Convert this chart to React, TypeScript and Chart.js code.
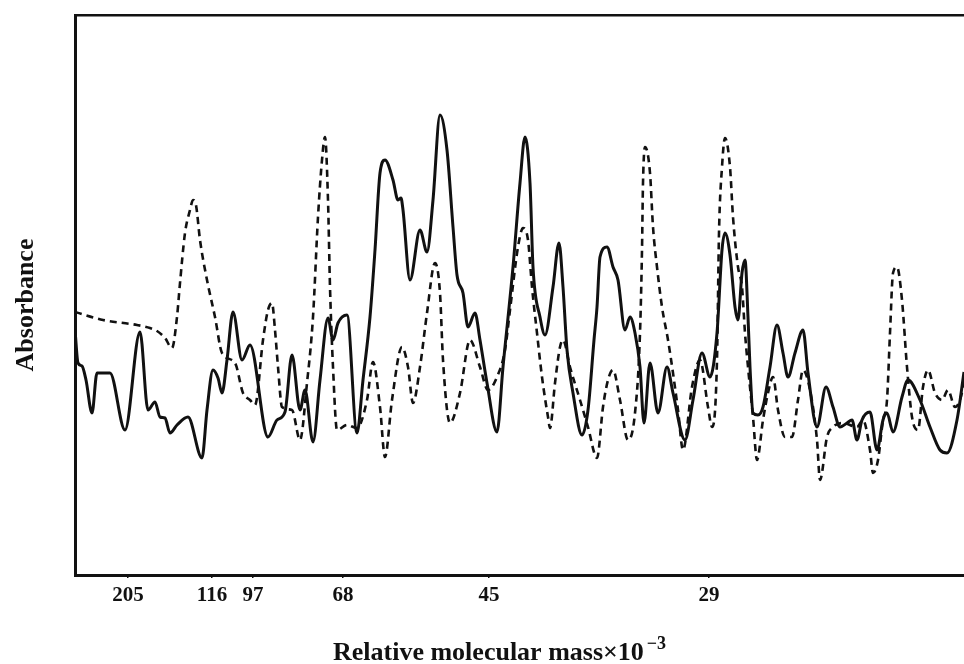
import { useEffect, useRef } from "react";
import { Chart, registerables } from "chart.js";

Chart.register(...registerables);

// Marker proteins (relative molecular mass x10^-3) and their migration positions
const markerMasses = ["205", "116", "97", "68", "45", "29"];
const markerPositions = [53, 137, 178, 268, 414, 634];

// Densitometer trace 1 (solid line): migration distance vs absorbance (arbitrary units)
const solidX = [0, 3, 7, 11, 17, 22, 35, 50, 65, 73, 80, 85, 90, 95, 102, 113, 127, 132, 138, 143, 147, 152, 158, 167, 175, 193, 202, 210, 217, 225, 230, 238, 245, 253, 258, 263, 272, 282, 288, 295, 300, 305, 310, 318, 323, 326, 328, 335, 345, 352, 358, 365, 372, 378, 382, 388, 393, 400, 405, 412, 422, 428, 438, 445, 450, 455, 458, 465, 470, 478, 484, 488, 492, 498, 507, 513, 519, 522, 525, 532, 538, 543, 550, 555, 560, 565, 569, 575, 583, 592, 598, 610, 618, 627, 635, 642, 647, 650, 655, 660, 663, 667, 670, 673, 675, 678, 683, 688, 695, 702, 708, 713, 720, 728, 733, 742, 751, 758, 765, 772, 777, 782, 787, 795, 802, 808, 812, 818, 827, 833, 845, 855, 865, 872, 882, 889];
const solidY = [245, 212, 209, 195, 162, 202, 202, 145, 243, 165, 173, 158, 157, 142, 150, 158, 117, 165, 205, 197, 182, 215, 263, 215, 230, 138, 155, 163, 220, 165, 185, 133, 195, 257, 235, 252, 260, 142, 195, 258, 325, 402, 415, 395, 375, 377, 365, 295, 345, 323, 375, 460, 425, 348, 300, 282, 248, 262, 235, 192, 143, 208, 308, 392, 438, 392, 308, 258, 240, 288, 332, 288, 225, 182, 140, 165, 235, 268, 318, 328, 308, 295, 245, 258, 242, 208, 152, 212, 162, 208, 182, 135, 175, 222, 198, 242, 325, 342, 320, 268, 255, 302, 315, 258, 208, 162, 160, 168, 208, 250, 222, 198, 222, 245, 202, 148, 188, 168, 148, 152, 155, 135, 155, 163, 125, 155, 162, 143, 178, 195, 175, 148, 125, 122, 155, 203];

// Densitometer trace 2 (dashed line)
const dashedX = [0, 28, 62, 75, 82, 90, 97, 102, 105, 110, 115, 118, 121, 125, 132, 140, 147, 160, 168, 175, 180, 188, 193, 197, 200, 203, 207, 217, 225, 232, 238, 243, 247, 250, 253, 255, 258, 262, 272, 282, 292, 298, 305, 310, 317, 327, 333, 338, 345, 352, 360, 365, 368, 375, 385, 395, 405, 413, 422, 430, 435, 443, 448, 453, 457, 462, 467, 473, 475, 480, 485, 488, 495, 505, 513, 522, 528, 533, 538, 545, 553, 560, 565, 567, 568, 570, 575, 578, 582, 587, 593, 598, 603, 608, 617, 625, 633, 637, 642, 644, 647, 650, 655, 658, 663, 667, 670, 673, 678, 682, 688, 693, 698, 703, 710, 717, 723, 728, 735, 742, 745, 752, 758, 768, 782, 788, 795, 798, 803, 808, 812, 815, 818, 822, 827, 832, 837, 843, 848, 853, 860, 867, 873, 880, 885, 889];
const dashedY = [263, 255, 250, 247, 244, 237, 227, 258, 292, 342, 365, 375, 370, 335, 295, 258, 222, 212, 182, 175, 170, 235, 265, 272, 245, 208, 168, 165, 135, 192, 258, 358, 415, 438, 375, 288, 208, 145, 150, 147, 175, 213, 168, 118, 175, 228, 208, 172, 208, 262, 312, 282, 215, 152, 182, 235, 208, 185, 198, 225, 265, 328, 347, 335, 288, 242, 198, 158, 147, 192, 228, 235, 208, 175, 148, 117, 168, 195, 205, 175, 135, 162, 242, 325, 392, 428, 402, 348, 308, 268, 235, 202, 165, 125, 188, 215, 168, 148, 215, 342, 408, 437, 408, 358, 308, 288, 242, 208, 158, 115, 155, 182, 198, 165, 138, 138, 175, 205, 185, 135, 95, 138, 148, 152, 148, 155, 125, 102, 115, 155, 175, 242, 302, 308, 275, 208, 158, 145, 188, 205, 182, 175, 185, 168, 175, 192];

const X_MAX = 889;
const Y_MAX = 560;

const yTitle = "Absorbance";
const xTitleMain = "Relative molecular mass\u00d710";
const xTitleSup = "\u22123";

const FONT = "'Liberation Serif', 'Times New Roman', serif";
const INK = "#111111";

const titlesPlugin = {
  id: "scanTitles",
  afterDraw(chart: any) {
    const ctx = chart.ctx as CanvasRenderingContext2D;
    ctx.save();
    ctx.fillStyle = INK;
    // x title with superscript
    ctx.font = `bold 26px ${FONT}`;
    ctx.textBaseline = "alphabetic";
    ctx.textAlign = "left";
    const x0 = 333;
    const base = 660;
    ctx.fillText(xTitleMain, x0, base);
    const w = ctx.measureText(xTitleMain).width;
    ctx.font = `bold 18px ${FONT}`;
    ctx.fillText(xTitleSup, x0 + w + 3, base - 11);
    // y title
    ctx.font = `bold 26px ${FONT}`;
    ctx.translate(33, 305);
    ctx.rotate(-Math.PI / 2);
    ctx.textAlign = "center";
    ctx.fillText(yTitle, 0, 0);
    ctx.restore();
  },
};

export default function App() {
  const ref = useRef<HTMLCanvasElement | null>(null);

  useEffect(() => {
    if (!ref.current) return;
    const solid = solidX.map((x, i) => ({ x, y: solidY[i] }));
    const dashed = dashedX.map((x, i) => ({ x, y: dashedY[i] }));
    const chart = new Chart(ref.current, {
      type: "line",
      data: {
        datasets: [
          {
            label: "Trace A",
            data: solid,
            borderColor: INK,
            borderWidth: 3,
            pointRadius: 0,
            fill: false,
            cubicInterpolationMode: "monotone",
          },
          {
            label: "Trace B",
            data: dashed,
            borderColor: INK,
            borderWidth: 2.6,
            borderDash: [7, 5],
            pointRadius: 0,
            fill: false,
            cubicInterpolationMode: "monotone",
          },
        ],
      },
      options: {
        animation: false,
        responsive: false,
        maintainAspectRatio: false,
        layout: { padding: 0 },
        plugins: {
          legend: { display: false },
          tooltip: { enabled: false },
          title: { display: false },
        },
        scales: {
          x: {
            type: "linear",
            position: "bottom",
            min: 0,
            max: X_MAX,
            afterFit: (s: any) => {
              s.height = 89;
            },
            afterBuildTicks: (axis: any) => {
              axis.ticks = markerPositions.map((v) => ({ value: v }));
            },
            ticks: {
              autoSkip: false,
              maxRotation: 0,
              padding: 5,
              color: INK,
              font: { family: FONT, size: 21, weight: "bold" },
              callback: (_v: any, i: number) => markerMasses[i],
            },
            grid: {
              display: true,
              drawOnChartArea: false,
              drawTicks: true,
              tickLength: 3,
              color: INK,
              lineWidth: 1.5,
            },
            border: { display: true, color: INK, width: 3 },
          },
          xTop: {
            type: "linear",
            position: "top",
            min: 0,
            max: 1,
            afterFit: (s: any) => {
              s.height = 15;
            },
            ticks: { display: false },
            grid: { display: false, drawTicks: false },
            border: { display: true, color: INK, width: 2.5 },
          },
          y: {
            type: "linear",
            position: "left",
            min: 0,
            max: Y_MAX,
            afterFit: (s: any) => {
              s.width = 75;
            },
            ticks: { display: false },
            grid: { display: false, drawTicks: false },
            border: { display: true, color: INK, width: 3 },
          },
        },
      },
      plugins: [titlesPlugin],
    });
    return () => chart.destroy();
  }, []);

  return (
    <div style={{ position: "fixed", left: 0, top: 0, width: 964, height: 664, background: "#fff" }}>
      <canvas ref={ref} width={964} height={664} style={{ display: "block", width: 964, height: 664 }} />
    </div>
  );
}
